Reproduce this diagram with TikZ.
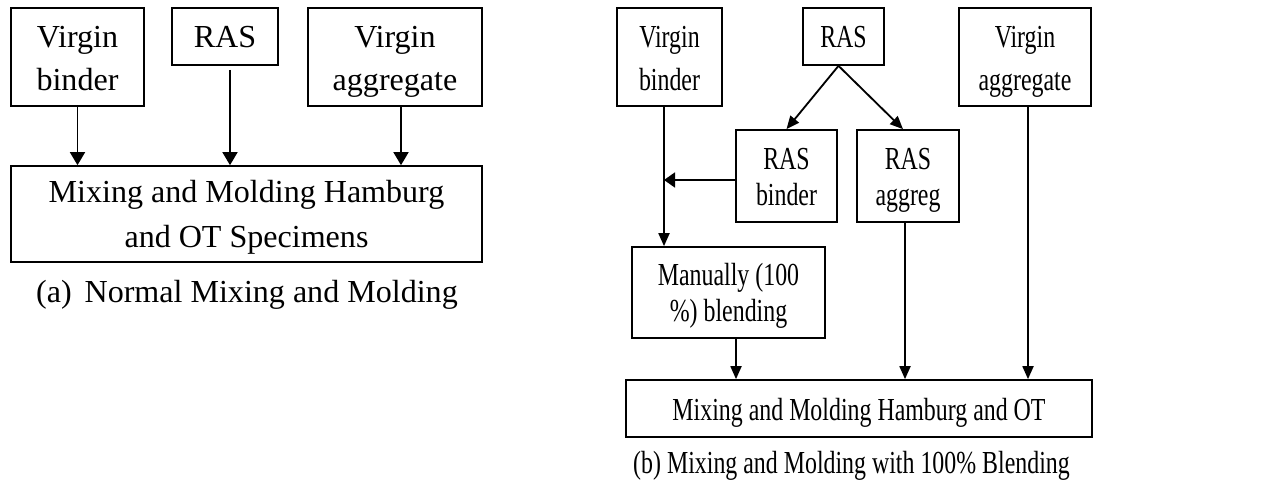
\documentclass[tikz,border=0pt]{standalone}
\usepackage{fontspec}
\setmainfont{Liberation Serif}
\newfontfamily\narrowfont[FakeStretch=0.745]{Liberation Serif}
\usetikzlibrary{arrows.meta}

\newlength\pxl
\setlength\pxl{0.025cm}
% struts fixing the first baseline and the last depth in a box
\newcommand\topstrut[1]{\rule{0pt}{#1\pxl}}
\newcommand\botstrut{\rule[-8\pxl]{0pt}{8\pxl}}

\begin{document}
\begin{tikzpicture}[
  x=0.025cm, y=-0.025cm,
  box/.style={draw=black, line width=1.2pt, inner sep=0pt, align=center},
  lead/.style={font=\fontsize{22.8}{#1}\selectfont},
  leadb/.style={font=\narrowfont\fontsize{22.8}{#1}\selectfont},
  feed/.style={-{Triangle[length=0.325cm,width=0.375cm]}, line width=1.3pt},
  feedb/.style={-{Triangle[length=0.325cm,width=0.275cm]}, line width=1.3pt},
  feedh/.style={-{Triangle[length=0.275cm,width=0.375cm]}, line width=1.3pt},
  caption/.style={inner sep=0pt, anchor=base}
]

\useasboundingbox (0,0) rectangle (1267,486);

% (a) Normal mixing and molding.
\node[box, lead=29.9pt, minimum width=133*\pxl, minimum height=98*\pxl] (vbinderA) at (77.5,57)
  {\topstrut{32}Virgin\\binder\botstrut};
\node[box, lead=29.9pt, minimum width=106*\pxl, minimum height=57*\pxl] (rasA) at (225,36.5)
  {\topstrut{31}RAS\botstrut};
\node[box, lead=29.9pt, minimum width=174*\pxl, minimum height=98*\pxl] (vaggA) at (395,57)
  {\topstrut{32}Virgin\\aggregate\botstrut};
\node[box, lead=31.3pt, minimum width=471*\pxl, minimum height=96*\pxl] (mixA) at (246.5,214)
  {\topstrut{30}Mixing and Molding Hamburg\\and OT Specimens\botstrut};
\node[caption, lead=29.9pt] (capA) at (247,302) {(a)\hspace{0.4em}Normal Mixing and Molding};

\coordinate (rasAout) at ([xshift=5*\pxl]rasA.south);
\coordinate (vaggAout) at ([xshift=6*\pxl]vaggA.south);
\draw[feed] (vbinderA.south) -- (vbinderA.south |- mixA.north);
\draw[feed, shorten <=0.1cm] (rasAout) -- (rasAout |- mixA.north);
\draw[feed] (vaggAout) -- (vaggAout |- mixA.north);

% (b) Mixing and molding with 100% blending.
\node[box, leadb=29.9pt, minimum width=105*\pxl, minimum height=98*\pxl] (vbinderB) at (669.5,57)
  {\topstrut{32}Virgin\\binder\botstrut};
\node[box, leadb=29.9pt, minimum width=81*\pxl, minimum height=57*\pxl] (rasB) at (843.5,36.5)
  {\topstrut{31}RAS\botstrut};
\node[box, leadb=29.9pt, minimum width=132*\pxl, minimum height=98*\pxl] (vaggB) at (1025,57)
  {\topstrut{32}Virgin\\aggregate\botstrut};
\node[box, leadb=24.9pt, minimum width=101*\pxl, minimum height=92*\pxl] (rbinder) at (786.5,176)
  {\topstrut{31}RAS\\binder\botstrut};
\node[box, leadb=24.9pt, minimum width=102*\pxl, minimum height=92*\pxl] (raggreg) at (908,176)
  {\topstrut{31}RAS\\aggreg\botstrut};
\node[box, leadb=26.3pt, minimum width=193*\pxl, minimum height=91*\pxl] (manual) at (728.5,292.5)
  {\topstrut{30}Manually (100\\\%) blending\botstrut};
\node[box, leadb=29.9pt, minimum width=466*\pxl, minimum height=57*\pxl] (mixB) at (859,408.5)
  {\topstrut{31}Mixing and Molding Hamburg and OT\botstrut};
\node[caption, leadb=29.9pt] (capB) at (851.5,473)
  {(b) Mixing and Molding with 100\% Blending};

\coordinate (rasBout) at ([xshift=-5*\pxl]rasB.south);
\coordinate (raggregIn) at ([xshift=-5*\pxl]raggreg.north);
\coordinate (vbinderBout) at ([xshift=-5.5*\pxl]vbinderB.south);
\coordinate (rbinderOut) at ([yshift=-4*\pxl]rbinder.west);
\coordinate (manualOut) at ([xshift=7.5*\pxl]manual.south);
\coordinate (raggregOut) at ([xshift=-3*\pxl]raggreg.south);
\coordinate (vaggBout) at ([xshift=3*\pxl]vaggB.south);

\draw[feedb] (rasBout) -- (rbinder.north);
\draw[feedb] (rasBout) -- (raggregIn);
\draw[feedb] (vbinderBout) -- (vbinderBout |- manual.north);
\draw[feedh] (rbinderOut) -- (rbinderOut -| vbinderBout);
\draw[feedb] (manualOut) -- (manualOut |- mixB.north);
\draw[feedb] (raggregOut) -- (raggregOut |- mixB.north);
\draw[feedb] (vaggBout) -- (vaggBout |- mixB.north);

\end{tikzpicture}
\end{document}
